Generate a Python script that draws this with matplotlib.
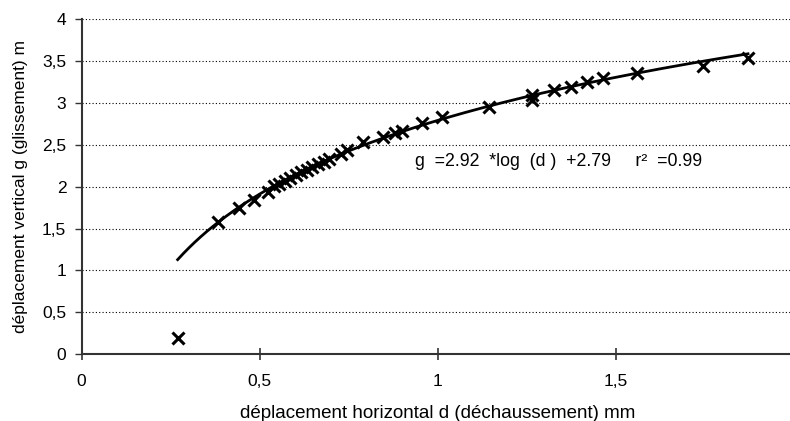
#!/usr/bin/env python
# -*- coding: UTF-8 -*-
import numpy as np
import matplotlib
matplotlib.use('Agg')
import matplotlib.pyplot as plt
from matplotlib.ticker import FuncFormatter, MultipleLocator

plt.rcParams['font.family'] = ['Liberation Sans', 'DejaVu Sans']
plt.rcParams['font.size'] = 11

# -- données : d (mm) et g (m)
d_mm = [0.27, 0.384, 0.443, 0.485, 0.524, 0.541, 0.555, 0.572, 0.586, 0.603,
        0.617, 0.633, 0.647, 0.664, 0.681, 0.695, 0.729, 0.747, 0.791, 0.847,
        0.881, 0.900, 0.956, 1.013, 1.145, 1.265, 1.265, 1.327, 1.375, 1.42,
        1.465, 1.56, 1.746, 1.872]
g_m = [0.20, 1.58, 1.74, 1.84, 1.94, 2.01, 2.03, 2.07, 2.10, 2.14,
       2.17, 2.20, 2.24, 2.27, 2.30, 2.33, 2.39, 2.44, 2.53, 2.59,
       2.64, 2.66, 2.76, 2.83, 2.95, 3.03, 3.09, 3.15, 3.19, 3.25,
       3.30, 3.36, 3.44, 3.54]

# -- courbe de tendance (coefficients affichés sur la figure)
fit_a = 2.92
fit_b = 2.79
fit_label = 'g  =2.92  *log  (d )  +2.79     r²  =0.99'

x_ticks = [0, 0.5, 1, 1.5]
x_label = 'déplacement horizontal d (déchaussement) mm'
y_label = 'déplacement vertical g (glissement) m'

fig = plt.figure(figsize=(7.9, 4.21), dpi=100)
ax = fig.add_axes([0.1032, 0.1584, 0.9013, 0.7964])

# -- tendance logarithmique
d_fit = np.linspace(min(d_mm), max(d_mm), 200)
g_fit = fit_a * np.log10(d_fit) + fit_b
ax.plot(d_fit, g_fit, color='black', lw=2, zorder=3)

# -- points mesurés
ax.plot(d_mm, g_m, linestyle='none', marker='x', color='black',
        markersize=8, markeredgewidth=2.2, zorder=4)

ax.text(0.468, 0.5765, fit_label, transform=ax.transAxes, fontsize=12.8,
        va='center', ha='left')

ax.set_xlim(0, 2)
ax.set_ylim(0, 4)
ax.set_xticks(x_ticks)
ax.yaxis.set_major_locator(MultipleLocator(0.5))
comma = FuncFormatter(lambda v, p: ('%g' % v).replace('.', ','))
ax.xaxis.set_major_formatter(comma)
ax.yaxis.set_major_formatter(comma)

ax.grid(axis='y', color='black', linestyle=(0, (1, 2)), lw=0.8)
ax.set_axisbelow(True)
for s in ['top', 'right']:
    ax.spines[s].set_visible(False)
for s in ['left', 'bottom']:
    ax.spines[s].set_color('#333333')
    ax.spines[s].set_linewidth(1.5)
ax.tick_params(axis='x', direction='inout', length=8, width=1.2, pad=10,
               labelsize=12.5, color='#333333')
ax.tick_params(axis='y', direction='out', length=5, width=1, pad=6,
               labelsize=12.5, color='#333333')

ax.set_xlabel(x_label, fontsize=13.5, labelpad=12)
ax.set_ylabel(y_label, fontsize=12.5, labelpad=10)

plt.savefig('out.png', dpi=100)
plt.close()
